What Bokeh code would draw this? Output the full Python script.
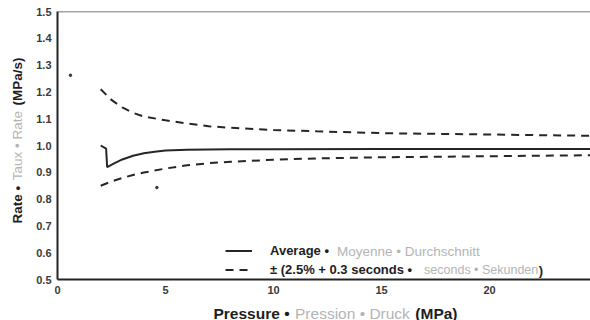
import math
from bokeh.plotting import figure
from bokeh.layouts import column, row
from bokeh.models import FixedTicker, Label, Legend, LegendItem, Span, PrintfTickFormatter, Range1d
from bokeh.embed import file_html
from bokeh.resources import INLINE

# ---------------- data ----------------
x_ticks = [0, 5, 10, 15, 20, 25]
y_ticks = [0.5, 0.6, 0.7, 0.8, 0.9, 1.0, 1.1, 1.2, 1.3, 1.4, 1.5]

pressure_avg = [2.0, 2.25, 2.3, 2.6, 3.0, 3.5, 4.0, 4.5, 5.0, 6.0, 8.0, 10.0, 15.0, 20.0, 25.0]
rate_avg = [1.000, 0.988, 0.919, 0.932, 0.948, 0.962, 0.971, 0.977, 0.981, 0.984, 0.986, 0.986, 0.987, 0.987, 0.987]

pressure_band = [2.0, 2.5, 3.0, 3.5, 4.0, 5.0, 6.0, 7.0, 8.0, 10.0, 12.0, 15.0, 20.0, 25.0]
rate_upper = [1.210, 1.170, 1.142, 1.122, 1.108, 1.094, 1.082, 1.072, 1.066, 1.058, 1.053, 1.046, 1.041, 1.036]
rate_lower = [0.850, 0.866, 0.879, 0.890, 0.899, 0.914, 0.926, 0.934, 0.939, 0.947, 0.952, 0.956, 0.960, 0.964]

speck_x = [0.6, 4.6]
speck_y = [1.262, 0.843]

y_label_parts = [("Rate •", "bold", "dark"), ("Taux • Rate", "normal", "gray"), ("(MPa/s)", "bold", "dark")]
x_label_parts = [("Pressure •", "bold", "dark"), ("Pression • Druck", "normal", "gray"), ("(MPa)", "bold", "dark")]
legend_labels = ["Average •", "± (2.5% + 0.3 seconds •"]
legend_gray_1 = "Moyenne • Durchschnitt"
legend_gray_2 = "seconds • Sekunden"
legend_close_2 = ")"

# ---------------- layout (page pixels) ----------------
PAGE_W, PAGE_H = 590, 320
LEFT_W = 30            # strip holding the y title
TOP_H = 300            # height of the plot row
FRAME_L, FRAME_T, FRAME_B, FRAME_R = 57, 11, 279, 590
PX_PER_X = 21.6
X0, X1 = 0.0, (FRAME_R - FRAME_L) / PX_PER_X
Y0, Y1 = 0.5, 1.5
FONT = "Liberation Sans"
DARK = "#1e1e1e"
GRAY = "#b4b4b4"
LINE = "#262626"


def ix(x_img):
    return X0 + (x_img - FRAME_L) * (X1 - X0) / (FRAME_R - FRAME_L)


def iy(y_img):
    return Y1 - (y_img - FRAME_T) * (Y1 - Y0) / (FRAME_B - FRAME_T)


REG = {' ': 278, '•': 350, '±': 584, '(': 333, ')': 333, '+': 584, '%': 889, '.': 278, '/': 278,
       'a': 556, 'b': 556, 'c': 500, 'd': 556, 'e': 556, 'f': 278, 'g': 556, 'h': 556, 'i': 222,
       'j': 222, 'k': 500, 'l': 222, 'm': 833, 'n': 556, 'o': 556, 'p': 556, 'q': 556, 'r': 333,
       's': 500, 't': 278, 'u': 556, 'v': 500, 'w': 722, 'x': 500, 'y': 500, 'z': 500,
       'A': 667, 'D': 722, 'M': 833, 'P': 667, 'R': 722, 'S': 667, 'T': 611}
BOLD = {' ': 278, '•': 350, '±': 584, '(': 333, ')': 333, '+': 584, '%': 889, '.': 278, '/': 278,
        'a': 556, 'b': 611, 'c': 556, 'd': 611, 'e': 556, 'f': 333, 'g': 611, 'h': 611, 'i': 278,
        'j': 278, 'k': 556, 'l': 278, 'm': 889, 'n': 611, 'o': 611, 'p': 611, 'q': 611, 'r': 389,
        's': 556, 't': 333, 'u': 611, 'v': 556, 'w': 778, 'x': 556, 'y': 556, 'z': 500,
        'A': 722, 'D': 722, 'M': 833, 'P': 667, 'R': 722, 'S': 667, 'T': 611}


def tw(s, style, size):
    table = BOLD if style == "bold" else REG
    return sum(556 if c.isdigit() else table.get(c, 556) for c in s) * size / 1000.0


def blank_fig(w, h, xr, yr, top=0, bottom=0):
    f = figure(width=w, height=h, x_range=Range1d(*xr), y_range=Range1d(*yr), title=None,
               output_backend="svg", toolbar_location=None,
               x_axis_location=None, y_axis_location=None,
               min_border_left=0, min_border_right=0, min_border_top=top, min_border_bottom=bottom)
    f.outline_line_color = None
    f.grid.visible = False
    f.background_fill_color = "white"
    f.border_fill_color = "white"
    return f


# ---------------- main plot ----------------
p = figure(width=PAGE_W - LEFT_W, height=TOP_H, x_range=Range1d(X0, X1), y_range=Range1d(Y0, Y1),
           title=None, output_backend="svg", toolbar_location=None,
           min_border_left=FRAME_L - LEFT_W, min_border_top=FRAME_T,
           min_border_bottom=TOP_H - FRAME_B, min_border_right=0)
p.outline_line_color = None
p.grid.grid_line_color = None
p.background_fill_color = "white"
p.border_fill_color = "white"

for ax in (p.xaxis[0], p.yaxis[0]):
    ax.axis_line_color = "#242424"
    ax.axis_line_width = 2
    ax.major_tick_line_color = None
    ax.minor_tick_line_color = None
    ax.major_tick_out = 0
    ax.major_tick_in = 0
    ax.minor_tick_out = 0
    ax.major_label_text_font = FONT
    ax.major_label_text_font_size = "11px"
    ax.major_label_text_font_style = "bold"
    ax.major_label_text_color = "#3a3a3a"
    ax.major_label_standoff = 6

p.xaxis[0].ticker = FixedTicker(ticks=x_ticks)
p.yaxis[0].ticker = FixedTicker(ticks=y_ticks)
p.yaxis[0].formatter = PrintfTickFormatter(format="%.1f")

p.add_layout(Span(location=Y1, dimension="width", line_color="#4a4a4a", line_width=1.5))

r_avg = p.line(pressure_avg, rate_avg, line_color=LINE, line_width=2)
r_up = p.line(pressure_band, rate_upper, line_color=LINE, line_width=2, line_dash="8 6")
p.line(pressure_band, rate_lower, line_color=LINE, line_width=2, line_dash="8 6")
p.scatter(speck_x, speck_y, size=2.5, color="#333333")

# legend: glyphs + bold first part of each row
LEG_SIZE = 13
legend = Legend(items=[LegendItem(label=legend_labels[0], renderers=[r_avg]),
                       LegendItem(label=legend_labels[1], renderers=[r_up])],
                location=(225 - FRAME_L, 2), orientation="vertical", padding=0, margin=0, spacing=4,
                glyph_width=27, glyph_height=15, label_height=15, label_standoff=18,
                label_text_font=FONT, label_text_font_size=f"{LEG_SIZE}px",
                label_text_font_style="bold", label_text_color=DARK,
                border_line_color=None, background_fill_alpha=0)
p.add_layout(legend)

leg_text_x = 270
row1_y, row2_y = 250.5, 269.5
G1_SIZE = 13.5
gx1 = leg_text_x + tw(legend_labels[0], "bold", LEG_SIZE) + 7
p.add_layout(Label(x=ix(gx1), y=iy(row1_y), text=legend_gray_1, text_font=FONT,
                   text_font_size=f"{G1_SIZE}px", text_color=GRAY, text_baseline="middle", text_align="left"))
G2_SIZE = 12.5
gx2 = leg_text_x + tw(legend_labels[1], "bold", LEG_SIZE) + 11
p.add_layout(Label(x=ix(gx2), y=iy(row2_y), text=legend_gray_2, text_font=FONT,
                   text_font_size=f"{G2_SIZE}px", text_color=GRAY, text_baseline="middle", text_align="left"))
cx2 = gx2 + tw(legend_gray_2, "normal", G2_SIZE) + 0.5
p.add_layout(Label(x=ix(cx2), y=iy(row2_y), text=legend_close_2, text_font=FONT,
                   text_font_size=f"{LEG_SIZE}px", text_font_style="bold", text_color=DARK,
                   text_baseline="middle", text_align="left"))


def draw_three(fig, parts, size, start, end, fixed, rotated):
    """first part anchored at start, last part anchored at end, middle part centred between."""
    (t0, s0, c0), (t1, s1, c1), (t2, s2, c2) = parts
    sign = -1 if rotated else 1
    mid_lo = start + sign * (tw(t0, s0, size) + tw(" ", s0, size))
    mid_hi = end - sign * (tw(t2, s2, size) + tw(" ", s2, size))
    a1 = (mid_lo + mid_hi) / 2
    ang = math.pi / 2 if rotated else 0
    for (txt, style, col), anchor, align in ((parts[0], start, "left"), (parts[1], a1, "center"),
                                             (parts[2], end, "right")):
        lx, ly = (fixed, anchor) if rotated else (anchor, fixed)
        fig.add_layout(Label(x=lx, y=ly, text=txt, text_font=FONT, text_font_size=f"{size}px",
                             text_font_style=style, text_color=DARK if col == "dark" else GRAY,
                             text_baseline="middle", text_align=align, angle=ang))


# ---------------- y title strip (frame aligned with the plot frame; coords = page pixels) ----------------
ya = blank_fig(LEFT_W, TOP_H, (0, LEFT_W), (FRAME_B, FRAME_T), top=FRAME_T, bottom=TOP_H - FRAME_B)
draw_three(ya, y_label_parts, 13.5, 223, 57, 17, True)

# ---------------- x title strip (coordinates = page pixels) ----------------
xa = blank_fig(PAGE_W, PAGE_H - TOP_H, (0, PAGE_W), (PAGE_H, TOP_H))
draw_three(xa, x_label_parts, 15.5, 213, 457, 312.5, False)

layout = column(row(ya, p, spacing=0), xa, spacing=0)
open("out.html", "w").write(file_html(layout, INLINE))
